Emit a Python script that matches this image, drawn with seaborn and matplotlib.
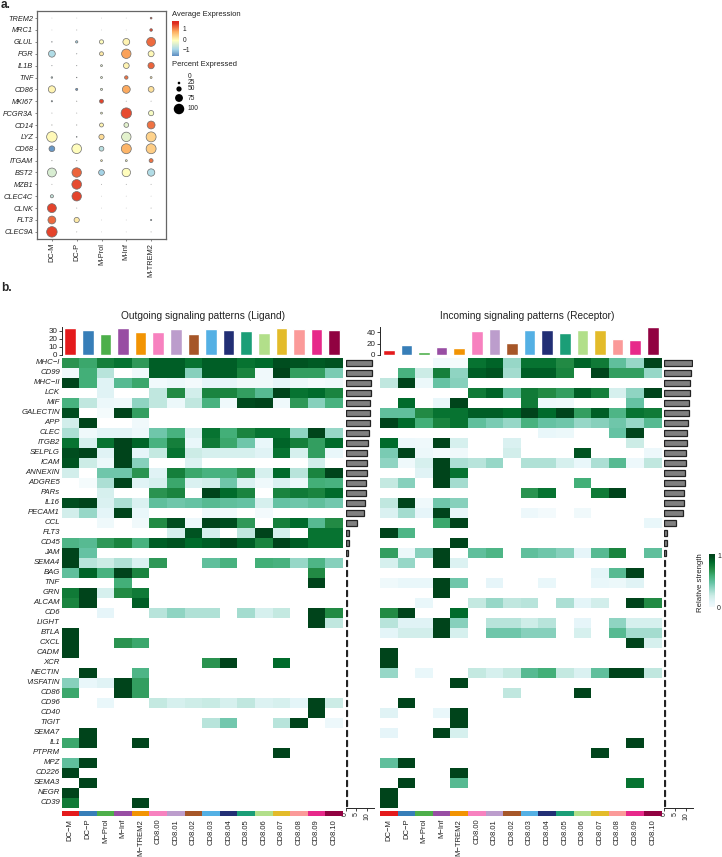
import numpy as np
import pandas as pd
import matplotlib
matplotlib.use('Agg')
import matplotlib.pyplot as plt
from matplotlib.colors import ListedColormap, Normalize
from matplotlib.cm import ScalarMappable
import seaborn as sns

sns.set_style('white')
plt.rcParams['font.family'] = ['Liberation Sans', 'DejaVu Sans']

W, H = 722, 857

# ---------------------------------------------------------------- panel a data
dot_clusters = ['DC-M', 'DC-P', 'M-Prol', 'M-Inf', 'M-TREM2']
dot_genes = ['TREM2', 'MRC1', 'GLUL', 'FGR', 'IL1B', 'TNF', 'CD86', 'MKI67', 'FCGR3A', 'CD14',
             'LYZ', 'CD68', 'ITGAM', 'BST2', 'MZB1', 'CLEC4C', 'CLNK', 'FLT3', 'CLEC9A']
dot_pct = [
    [1, 1, 1, 1, 17],
    [1, 2, 1, 1, 25],
    [5, 22, 40, 65, 85],
    [65, 3, 38, 90, 57],
    [3, 3, 18, 55, 60],
    [15, 5, 18, 33, 18],
    [68, 20, 20, 75, 55],
    [12, 3, 38, 2, 2],
    [2, 2, 18, 100, 50],
    [3, 3, 38, 45, 75],
    [100, 7, 50, 90, 95],
    [55, 92, 45, 95, 95],
    [3, 3, 17, 18, 38],
    [85, 90, 55, 80, 70],
    [2, 92, 2, 2, 2],
    [30, 90, 1, 1, 1],
    [85, 2, 1, 1, 2],
    [75, 50, 1, 1, 12],
    [100, 2, 1, 1, 2],
]
dot_avg = [
    [0, 0, 0, 0, 1.6],
    [0, 0, 0, 0, 1.6],
    [-1, -.8, .1, .2, 1.35],
    [-.7, -1, .3, 1.0, .15],
    [-1, -1, -.2, .2, 1.4],
    [-.6, -.9, -.2, 1.3, .3],
    [.2, -1.3, -.2, .95, .4],
    [-1, 0, 1.6, 0, 0],
    [0, 0, 0, 1.55, 0],
    [0, 0, .2, -.2, 1.3],
    [.15, -1, .45, -.2, .55],
    [-1.3, .1, -.6, .85, .6],
    [0, 0, .2, 0, 1.3],
    [-.3, 1.4, -.8, .1, -.7],
    [0, 1.55, 0, 0, 0],
    [-.5, 1.6, 0, 0, 0],
    [1.6, 0, 0, 0, 0],
    [1.35, .3, 0, 0, -.9],
    [1.6, 0, 0, 0, 0],
]
legend_pct = [0, 25, 50, 75, 100]

# ---------------------------------------------------------------- panel b data
cell_types = ['DC\u2212M', 'DC\u2212P', 'M\u2212Prol', 'M\u2212Inf', 'M\u2212TREM2', 'CD8.00', 'CD8.01', 'CD8.02',
              'CD8.03', 'CD8.04', 'CD8.05', 'CD8.06', 'CD8.07', 'CD8.08', 'CD8.09', 'CD8.10']
cell_colors = ['#E41A1C', '#377EB8', '#4DAF4A', '#984EA3', '#F29403', '#F781BF', '#BC9DCC', '#A65628',
               '#54B0E4', '#222F75', '#1B9E77', '#B2DF8A', '#E3BB2A', '#FB9A99', '#E7298A', '#910241']
pathways = ['MHC\u2212I', 'CD99', 'MHC\u2212II', 'LCK', 'MIF', 'GALECTIN', 'APP', 'CLEC', 'ITGB2', 'SELPLG', 'ICAM',
            'ANNEXIN', 'ADGRE5', 'PARs', 'IL16', 'PECAM1', 'CCL', 'FLT3', 'CD45', 'JAM', 'SEMA4', 'BAG', 'TNF',
            'GRN', 'ALCAM', 'CD6', 'LIGHT', 'BTLA', 'CXCL', 'CADM', 'XCR', 'NECTIN', 'VISFATIN', 'CD86', 'CD96',
            'CD40', 'TIGIT', 'SEMA7', 'IL1', 'PTPRM', 'MPZ', 'CD226', 'SEMA3', 'NEGR', 'CD39']

out_top = [33.7, 30.5, 25.5, 33, 28, 29, 31.7, 25.5, 32, 31, 29.6, 26.7, 33.3, 31.7, 32, 31]
in_top = [8, 17.6, 4.7, 15, 13, 43, 46, 21, 44, 45, 38, 44.7, 43.5, 29, 27, 49]

out_side = [12.2, 12.1, 11.8, 11.6, 11.4, 11.2, 11, 10.7, 10.2, 9.9, 9.8, 9.7, 9.4, 9.4, 9, 8.3, 5.3, 1.5, 1.4,
            1, .8, .5, .5, .5, .5, .5, .5, .5, .5, .5, .5, .5, .5, .5, .5, .5, .5, .5, .5, .5, .5, .5, .5, .5, .5]
in_side = [12.6, 12.3, 12, 11.8, 11.5, 11.3, 11, 10.7, 10.5, 10.2, 10, 9.7, 9.4, 9.2, 9, 8.5, 5.5, 1.5, 1.5,
           1, .5, .5, .5, .5, .5, .5, .5, .5, .5, .5, .5, .5, .5, .5, .5, .5, .5, .5, .5, .5, .5, .5, .5, .5, .5]

out_strength = [
    [.72, .65, .8, .85, .7, .92, .92, .85, .92, .92, .85, .88, .97, .95, .93, .95],
    [.05, .62, .3, 0, .05, .92, .92, .42, .92, .92, .78, .05, 1, .68, .68, .45],
    [1, .62, .15, .55, .65, .04, .08, .03, .12, .12, .05, .05, .12, .08, .03, .06],
    [0, 0, .15, 0, 0, .28, .75, .22, .78, .78, .68, .55, 1, .85, .88, .78],
    [.6, .28, .08, .06, .4, .28, .08, .28, .6, .06, .98, 1, .06, .7, .42, .6],
    [.97, 0, .02, 1, .68, 0, 0, 0, 0, 0, 0, 0, 0, 0, 0, 0],
    [.22, 1, 0, 0, .05, 0, 0, 0, 0, 0, 0, 0, 0, 0, 0, 0],
    [.33, .06, .14, .14, .07, .48, .6, .17, .85, .62, .78, .85, .85, .4, 1, .38],
    [.85, .2, .85, 1, .9, .6, .8, .1, .82, .65, .48, .1, .9, .8, .68, .88],
    [.97, 1, .15, 1, .12, .27, .85, .25, .2, .2, .2, .15, .85, .2, .68, .1],
    [.95, .25, .08, 1, .42, 0, 0, .17, 0, 0, 0, 0, 0, 0, .22, 0],
    [.22, 0, .48, .48, .72, .15, .8, .65, .6, .6, .72, .2, .88, .3, .78, 1],
    [0, .02, .33, 1, .15, .2, .65, .18, .22, .48, .18, .06, .18, .07, .62, .6],
    [0, 0, .2, 0, 0, .72, .78, 0, 1, .88, .78, 0, .78, .82, .78, .88],
    [.97, 1, .18, .33, .18, .52, .48, .5, .55, .52, .5, .2, .5, .48, .52, .47],
    [.22, .38, .13, 1, .1, 0, 0, 0, .06, .04, 0, .03, 0, 0, 0, 0],
    [0, 0, .06, 0, .05, .75, .97, .07, 1, .97, .7, 0, .8, .88, .55, .75],
    [0, 0, 0, 0, 0, 0, .2, .95, .2, 0, .28, 1, .2, 0, .85, .85],
    [.58, .55, .7, .78, .6, .92, .95, .88, .92, 1, .92, .78, 1, .92, .85, .85],
    [1, .5, 0, 0, 0, 0, 0, 0, 0, 0, 0, 0, 0, 0, 0, 0],
    [1, .3, .25, .32, .18, .7, 0, 0, .52, .6, 0, .62, .6, .38, .58, .42],
    [.52, .9, .6, 1, .78, 0, 0, 0, 0, 0, 0, 0, 0, 0, .75, 0],
    [0, 0, 0, .62, 0, 0, 0, 0, 0, 0, 0, 0, 0, 0, 1, 0],
    [.82, 1, .2, .75, .82, 0, 0, 0, 0, 0, 0, 0, 0, 0, 0, 0],
    [.78, 1, 0, 0, .92, 0, 0, 0, 0, 0, 0, 0, 0, 0, 0, 0],
    [0, 0, .12, 0, 0, .3, .4, .32, .32, 0, .35, .2, .27, 0, 1, .75],
    [0, 0, 0, 0, 0, 0, 0, 0, 0, 0, 0, 0, 0, 0, 1, .28],
    [1, 0, 0, 0, 0, 0, 0, 0, 0, 0, 0, 0, 0, 0, 0, 0],
    [1, 0, 0, .72, .65, 0, 0, 0, 0, 0, 0, 0, 0, 0, 0, 0],
    [1, 0, 0, 0, 0, 0, 0, 0, 0, 0, 0, 0, 0, 0, 0, 0],
    [0, 0, 0, 0, 0, 0, 0, 0, .72, 1, 0, 0, .88, 0, 0, 0],
    [0, 1, 0, 0, .58, 0, 0, 0, 0, 0, 0, 0, 0, 0, 0, 0],
    [.42, .1, .15, 1, .68, 0, 0, 0, 0, 0, 0, 0, 0, 0, 0, 0],
    [.65, 0, 0, 1, .68, 0, 0, 0, 0, 0, 0, 0, 0, 0, 0, 0],
    [0, 0, .1, 0, 0, .27, .2, .24, .26, .2, .28, .17, .2, .13, 1, .25],
    [0, 0, 0, 0, 0, 0, 0, 0, 0, 0, 0, 0, 0, 0, 1, 0],
    [0, 0, 0, 0, 0, 0, 0, 0, .3, .47, 0, 0, .3, 1, 0, .07],
    [0, 1, 0, 0, 0, 0, 0, 0, 0, 0, 0, 0, 0, 0, 0, 0],
    [.65, 1, 0, 0, 1, 0, 0, 0, 0, 0, 0, 0, 0, 0, 0, 0],
    [0, 0, 0, 0, 0, 0, 0, 0, 0, 0, 0, 0, 1, 0, 0, 0],
    [.52, 1, 0, 0, 0, 0, 0, 0, 0, 0, 0, 0, 0, 0, 0, 0],
    [1, 0, 0, 0, 0, 0, 0, 0, 0, 0, 0, 0, 0, 0, 0, 0],
    [0, 1, 0, 0, 0, 0, 0, 0, 0, 0, 0, 0, 0, 0, 0, 0],
    [1, 0, 0, 0, 0, 0, 0, 0, 0, 0, 0, 0, 0, 0, 0, 0],
    [.82, 0, 0, 0, 1, 0, 0, 0, 0, 0, 0, 0, 0, 0, 0, 0],
]

in_strength = [
    [0, 0, 0, .04, .02, .85, .9, .38, .85, .85, .75, .9, .82, .52, .38, 1],
    [0, .6, .25, .8, .4, .92, .95, .35, .92, .92, .78, 0, 1, .68, .68, .38],
    [.28, 1, .08, .5, .42, 0, 0, 0, 0, 0, 0, 0, 0, 0, 0, 0],
    [0, 0, 0, 0, 0, .82, .9, .52, .82, .75, .68, .92, .8, .2, .4, 1],
    [0, .88, 0, .1, 1, 0, 0, 0, .82, .07, .06, 0, 0, 0, .5, 0],
    [.52, .52, .75, .85, .85, .92, .92, .88, 1, .88, 1, .68, .92, .58, .85, .82],
    [1, .88, .62, .78, .85, .52, .45, .38, .6, .5, .48, .38, .42, .48, .38, .55],
    [0, 0, 0, 0, 0, 0, 0, 0, 0, .1, .08, 0, 0, .5, 1, 0],
    [.88, .07, .06, 1, .2, 0, 0, .18, 0, 0, 0, 0, 0, 0, .25, 0],
    [.45, 1, .08, .03, .05, 0, 0, .22, 0, 0, 0, .95, 0, 0, 0, .07],
    [.4, .06, .2, 1, .33, .3, .38, 0, .32, .32, .2, .1, .33, .55, .07, .28],
    [0, 0, .15, 1, .85, 0, 0, 0, 0, 0, 0, 0, 0, 0, 0, 0],
    [.27, .42, 0, 1, .35, 0, 0, 0, 0, 0, 0, .62, 0, 0, 0, 0],
    [0, 0, 0, 0, 0, 0, 0, 0, .72, .85, 0, 0, .82, 1, 0, 0],
    [.28, 1, .06, .48, .42, 0, 0, 0, 0, 0, 0, 0, 0, 0, 0, 0],
    [.18, .35, .12, 1, .1, 0, 0, 0, .07, .03, 0, .05, 0, 0, 0, 0],
    [0, 0, 0, .65, 1, 0, 0, 0, 0, 0, 0, 0, 0, 0, 0, .1],
    [1, .58, 0, 0, 0, 0, 0, 0, 0, 0, 0, 0, 0, 0, 0, 0],
    [0, 0, 0, 0, 1, 0, 0, 0, 0, 0, 0, 0, 0, 0, 0, 0],
    [.68, .08, .42, 1, 0, .52, .58, 0, .52, .48, .42, .12, .55, .78, 0, .52],
    [.2, .38, 0, 1, .17, 0, 0, 0, 0, 0, 0, 0, 0, 0, 0, 0],
    [0, 0, 0, 0, 0, 0, 0, 0, 0, 0, 0, 0, .13, .55, 1, 0],
    [.06, .1, .1, 1, .48, 0, .12, 0, 0, .1, 0, 0, .1, .08, .15, 0],
    [0, 0, 0, 1, 0, 0, 0, 0, 0, 0, 0, 0, 0, 0, 0, 0],
    [0, 0, .1, 0, 0, .27, .38, .28, .3, 0, .33, .13, .22, 0, 1, .75],
    [.75, 1, 0, 0, .88, 0, 0, 0, 0, 0, 0, 0, 0, 0, 0, 0],
    [.3, .15, .15, 1, .42, 0, .3, .3, .24, .3, 0, .12, 0, .4, .2, .2],
    [.13, .22, .22, 1, .2, 0, .48, .48, .42, .42, 0, .2, 0, .55, .35, .35],
    [0, 0, 0, 0, 0, 0, 0, 0, 0, 0, 0, 0, 0, 0, 1, .2],
    [1, 0, 0, 0, 0, 0, 0, 0, 0, 0, 0, 0, 0, 0, 0, 0],
    [1, 0, 0, 0, 0, 0, 0, 0, 0, 0, 0, 0, 0, 0, 0, 0],
    [.38, 0, .1, 0, 0, .27, .2, .27, .55, .62, .27, .18, .52, 1, 1, .28],
    [0, 0, 0, 0, 1, 0, 0, 0, 0, 0, 0, 0, 0, 0, 0, 0],
    [0, 0, 0, 0, 0, 0, 0, .28, 0, 0, 0, 1, 0, 0, 0, 0],
    [0, 1, 0, 0, 0, 0, 0, 0, 0, 0, 0, 0, 0, 0, 0, 0],
    [.15, 0, 0, .1, 1, 0, 0, 0, 0, 0, 0, 0, 0, 0, 0, 0],
    [0, 0, 0, 0, 1, 0, 0, 0, 0, 0, 0, 0, 0, 0, 0, 0],
    [.12, 0, 0, 1, .2, 0, 0, 0, 0, 0, 0, 0, 0, 0, 0, 0],
    [0, 0, 0, 0, 0, 0, 0, 0, 0, 0, 0, 0, 0, 0, 1, 0],
    [0, 0, 0, 0, 0, 0, 0, 0, 0, 0, 0, 0, 1, 0, 0, 0],
    [.52, 1, 0, 0, 0, 0, 0, 0, 0, 0, 0, 0, 0, 0, 0, 0],
    [0, 0, 0, 0, 1, 0, 0, 0, 0, 0, 0, 0, 0, 0, 0, 0],
    [0, 1, 0, 0, .55, 0, 0, 0, 0, 0, 0, 0, 0, 0, .85, 0],
    [1, 0, 0, 0, 0, 0, 0, 0, 0, 0, 0, 0, 0, 0, 0, 0],
    [1, 0, 0, 0, 0, 0, 0, 0, 0, 0, 0, 0, 0, 0, 0, 0],
]

fig = plt.figure(figsize=(W / 100, H / 100), dpi=100, facecolor='white')


def px_axes(left, top, right, bottom):
    # axes placed with pixel edges of the 722x857 picture
    return fig.add_axes([left / W, 1 - bottom / H, (right - left) / W, (bottom - top) / H])


def px_text(x, y, s, **kw):
    kw.setdefault('va', 'center')
    return fig.text(x / W, 1 - y / H, s, **kw)


# ---------------------------------------------------------------- a. dot plot
dots = pd.DataFrame({
    'gene': np.repeat(dot_genes, len(dot_clusters)),
    'cluster': dot_clusters * len(dot_genes),
    'pct': np.ravel(dot_pct),
    'avg': np.ravel(dot_avg),
})
dots['area'] = dots['pct'] ** 2

expr_norm = Normalize(-1.6, 1.77)
expr_cmap = sns.blend_palette(['#4575B4', '#ABD9E9', '#FFFFBF', '#FDAE61', '#DE2A1F'], as_cmap=True)
dot_sizes = (0.0, 57.0)

ax = px_axes(37, 11, 166, 239)
sns.scatterplot(data=dots, x='cluster', y='gene', hue='avg', palette=expr_cmap, hue_norm=expr_norm,
                size='area', sizes=dot_sizes, size_norm=(0, 10000), edgecolor='#6e6e6e', linewidth=0.5,
                legend=False, clip_on=False, ax=ax)
ax.set_xlim(-0.6, 4.6)
ax.set_ylim(18.6, -0.6)
ax.set_xlabel('')
ax.set_ylabel('')
for s in ax.spines.values():
    s.set_visible(True)
    s.set_color('#666666')
    s.set_linewidth(0.9)
ax.tick_params(axis='both', length=1.5, width=0.5, color='#555555', pad=1.2, left=True, bottom=True)
ax.tick_params(axis='x', labelsize=5.3, labelrotation=90, labelcolor='#222222')
ax.tick_params(axis='y', labelsize=5.3, labelcolor='#222222')
for t in ax.get_yticklabels():
    t.set_style('italic')

# colour bar and size legend of panel a
cax = px_axes(172, 21, 179, 56)
fig.colorbar(ScalarMappable(expr_norm, expr_cmap), cax=cax, ticks=[-1, 0, 1])
cax.set_yticklabels(['\u22121', '0', '1'])
cax.tick_params(labelsize=4.8, length=0, pad=2.5, labelcolor='#222222')
cax.collections[-1].set_edgecolor('face')
cax.spines[:].set_visible(False)
px_text(172, 15, 'Average Expression', fontsize=5.5, color='#222222')
px_text(172, 65, 'Percent Expressed', fontsize=5.5, color='#222222')

lax = px_axes(170, 70, 186, 116)
sns.scatterplot(x=[0] * 5, y=[76, 83, 89, 98, 109], size=np.array(legend_pct) ** 2, sizes=dot_sizes,
                size_norm=(0, 10000), color='black', linewidth=0, legend=False, ax=lax)
lax.set_xlim(-9 / 16, 7 / 16)
lax.set_ylim(116, 70)
lax.axis('off')
for pct, y in zip(legend_pct, [76, 83, 89, 98, 109]):
    px_text(188, y, str(pct), fontsize=4.8, color='#222222')

px_text(1, 5, 'a.', fontsize=8.6, fontweight='bold')
px_text(1, 288, 'b.', fontsize=8.6, fontweight='bold')


# ---------------------------------------------------------------- b. heatmaps
def signaling_panel(left, strength, top_vals, side_vals, top_max, top_ticks, title, title_x, row_labels):
    right = left + 281.5
    values = pd.DataFrame(strength, index=pathways, columns=cell_types)

    hm = px_axes(left, 358, right, 808)
    sns.heatmap(values, cmap='BuGn', vmin=0, vmax=1, mask=values == 0, cbar=False, ax=hm, xticklabels=False,
                yticklabels=row_labels)
    hm.tick_params(axis='y', length=0, pad=1.2, labelsize=5.6, labelrotation=0, labelcolor='#222222')
    for t in hm.get_yticklabels():
        t.set_style('italic')

    # top bars, one per cell type
    top = px_axes(left, 326.7, right, 355)
    sns.barplot(x=cell_types, y=top_vals, hue=cell_types, palette=cell_colors, saturation=1, width=0.66,
                legend=False, ax=top)
    top.set_xlim(-0.5, 15.5)
    top.set_ylim(0, top_max)
    top.set_yticks(top_ticks)
    top.set_xticks([])
    sns.despine(ax=top, bottom=True)
    top.spines['left'].set_linewidth(0.7)
    top.tick_params(axis='y', left=True, length=2, width=0.6, pad=1.2, labelsize=5.8, labelcolor='#222222')

    # bars at the side, one per pathway
    side = px_axes(right + 2.5, 358, right + 31, 808)
    sns.barplot(x=side_vals, y=pathways, orient='h', color='#808080', saturation=1, width=0.66,
                edgecolor='#222222', linewidth=0.9, ax=side)
    side.set_xlim(0, 13)
    side.set_ylim(44.5, -0.5)
    side.set_yticks([])
    side.set_xticks([0, 5, 10])
    sns.despine(ax=side, left=True)
    side.spines['bottom'].set_linewidth(0.7)
    side.tick_params(axis='x', bottom=True, length=2, width=0.6, pad=1.2, labelsize=5, labelrotation=90,
                     labelcolor='#222222')

    # colour strip and the cell type names
    strip = px_axes(left, 810.5, right, 816)
    sns.heatmap(np.arange(16).reshape(1, 16), cmap=ListedColormap(cell_colors), cbar=False, ax=strip,
                xticklabels=cell_types, yticklabels=False)
    strip.tick_params(axis='x', length=0, pad=2, labelsize=5.5, labelrotation=90, labelcolor='#222222')

    px_text(title_x, 316, title, fontsize=7.3, ha='center', color='#222222')


signaling_panel(61.5, out_strength, out_top, out_side, 35, [0, 10, 20, 30],
                'Outgoing signaling patterns (Ligand)', 203, pathways)
signaling_panel(380, in_strength, in_top, in_side, 50, [0, 20, 40],
                'Incoming signaling patterns (Receptor)', 527, False)

# colour bar of relative strength
sax = px_axes(709, 554, 715, 607)
fig.colorbar(ScalarMappable(Normalize(0, 1), 'BuGn'), cax=sax, ticks=[])
sax.collections[-1].set_edgecolor('face')
sax.spines[:].set_visible(False)
px_text(717, 557, '1', fontsize=5, color='#222222')
px_text(717, 609, '0', fontsize=5, color='#222222')
px_text(701, 583, 'Relative strength', fontsize=5.6, rotation=90, ha='center', color='#222222')

fig.savefig('out.png', dpi=100)
